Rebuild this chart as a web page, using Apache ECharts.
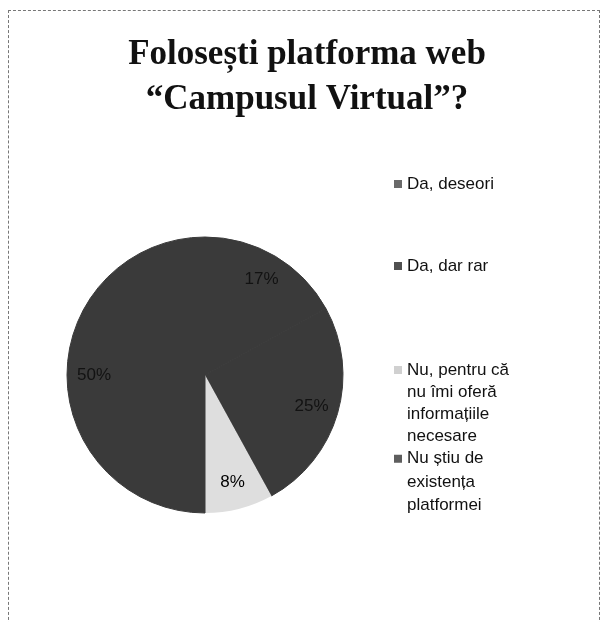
<!DOCTYPE html>
<html>
<head>
<meta charset="utf-8">
<script src="https://cdn.jsdelivr.net/npm/echarts@6/dist/echarts.min.js"></script>
<style>
html,body{margin:0;padding:0;background:#fff;}
#wrap{position:relative;width:603px;height:622px;}
#frame{position:absolute;left:8px;top:10px;width:592px;height:620px;border:1px dashed #777;box-sizing:border-box;}
#chart{position:absolute;left:0;top:0;width:603px;height:622px;}
</style>
</head>
<body>
<div id="wrap"><div id="frame"></div><div id="chart"></div></div>
<script>
const titleLines = ['Folosești platforma web', '“Campusul Virtual”?'];
const categories = ['Da, deseori', 'Da, dar rar', 'Nu, pentru că nu îmi oferă informațiile necesare', 'Nu știu de existența platformei'];
const legendLines = [['Da, deseori'], ['Da, dar rar'], ['Nu, pentru că', 'nu îmi oferă', 'informațiile', 'necesare'], ['Nu știu de', 'existența', 'platformei']];
const values = [17, 25, 8, 50];
const colors = ['#3a3a3a', '#3a3a3a', '#dedede', '#3a3a3a'];
const legendIconColors = ['#6a6a6a', '#505050', '#d0d0d0', '#5e5e5e'];
const labelColors = ['#121212', '#121212', '#000000', '#121212'];

const data = categories.map((c, i) => ({
  name: c, value: values[i],
  itemStyle: { color: colors[i], borderColor: colors[i], borderWidth: i === 2 ? 0 : 1 }
}));
const labelData = categories.map((c, i) => ({ name: c, value: values[i], label: { color: labelColors[i] } }));

const legendTops = [180, 262, 359, 447];
const legendLineH = [22, 22, 22, 23.5];
const legends = categories.map((c, i) => {
  const n = legendLines[i].length;
  const H = n * legendLineH[i];
  const mid = legendLineH[i] / 2;
  return {
    data: [c],
    orient: 'vertical',
    left: 394,
    top: legendTops[i] - (n === 1 ? mid - 4 : 0),
    padding: 0,
    itemWidth: 8,
    itemHeight: n === 1 ? 8 : H,
    icon: n === 1 ? 'rect' : 'path://M0,0L0.01,0M0,' + (mid - 4) + 'L8,' + (mid - 4) + 'L8,' + (mid + 4) + 'L0,' + (mid + 4) + 'ZM0,' + H + 'L0.01,' + H,
    itemStyle: { borderWidth: 0, color: legendIconColors[i] },
    selectedMode: false,
    formatter: () => legendLines[i].join('\n'),
    textStyle: { fontFamily: 'Liberation Sans', fontSize: 17, color: '#111', lineHeight: legendLineH[i] }
  };
});

const chart = echarts.init(document.getElementById('chart'), null, { renderer: 'canvas' });
chart.setOption({
  animation: false,
  title: {
    text: titleLines.join('\n'),
    left: 302,
    textAlign: 'center',
    top: 27,
    textStyle: { fontFamily: 'Liberation Serif', fontWeight: 'bold', fontSize: 35, lineHeight: 45, color: '#111' }
  },
  legend: legends,
  series: [
    {
      type: 'pie',
      center: [205, 375],
      radius: [0, 138],
      startAngle: 90,
      clockwise: true,
      data: data,
      label: { show: false },
      labelLine: { show: false },
      silent: true
    },
    {
      type: 'pie',
      center: [205, 375],
      radius: [78, 138],
      startAngle: 90,
      clockwise: true,
      data: labelData,
      itemStyle: { color: 'rgba(0,0,0,0)', borderWidth: 0 },
      label: { show: true, position: 'inside', formatter: '{c}%', fontFamily: 'Liberation Sans', fontSize: 17 },
      labelLine: { show: false },
      silent: true,
      legendHoverLink: false
    }
  ]
});
</script>
</body>
</html>
